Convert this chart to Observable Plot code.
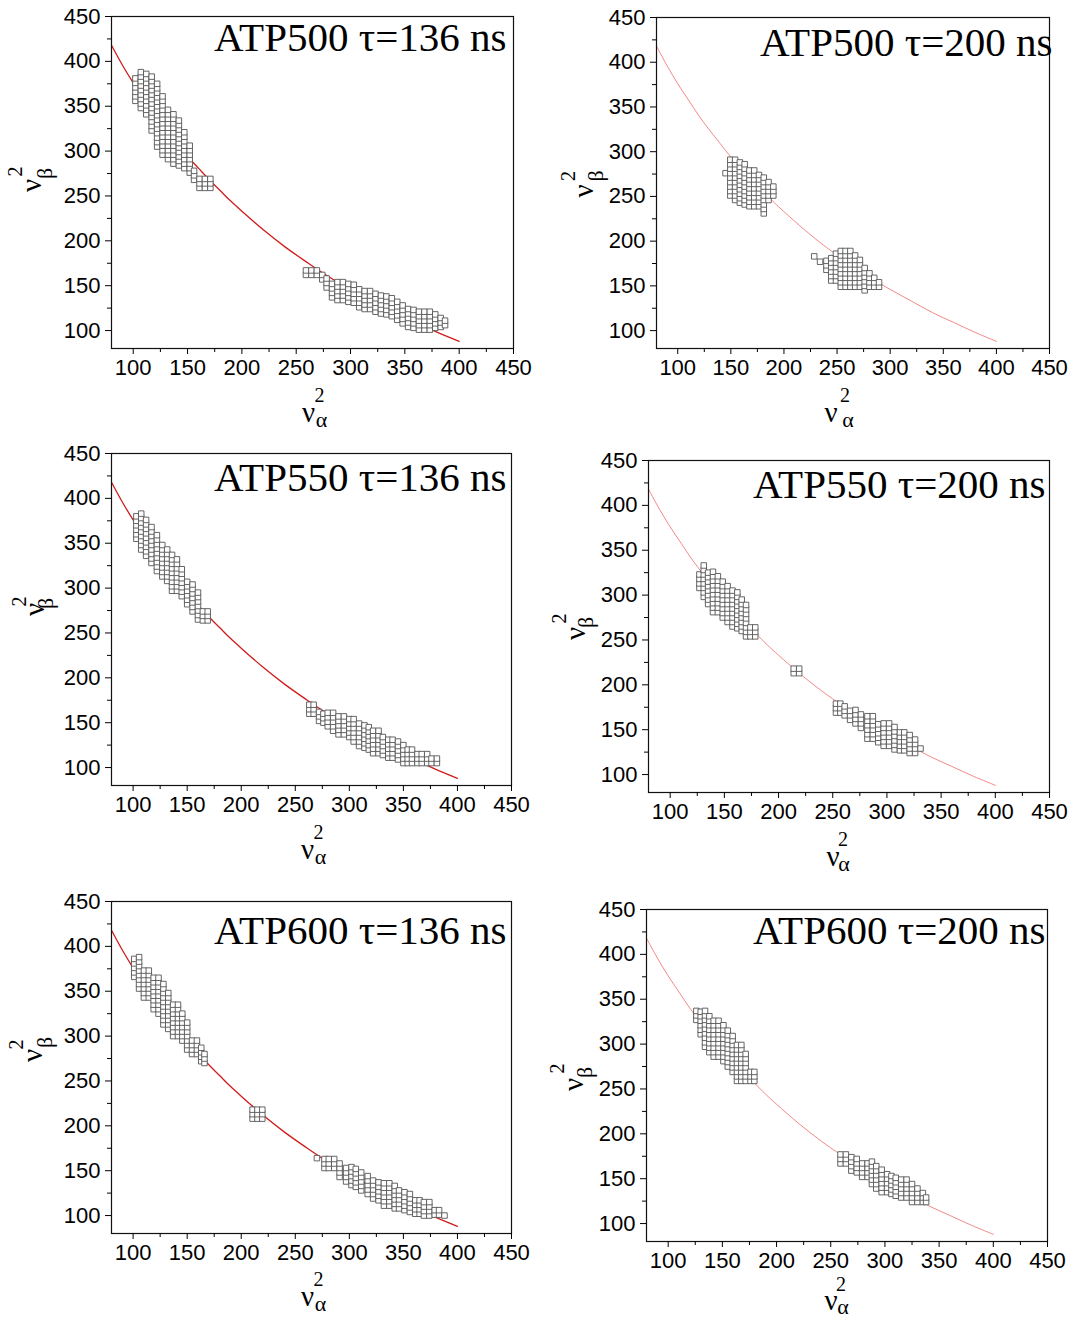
<!DOCTYPE html>
<html><head><meta charset="utf-8">
<script src="https://cdn.jsdelivr.net/npm/d3@7"></script>
<script src="https://cdn.jsdelivr.net/npm/@observablehq/plot@0.6"></script>
<style>
html,body{margin:0;padding:0;background:#fff;}
#page{position:relative;width:1076px;height:1319px;overflow:hidden;background:#fff;}
.panel{position:absolute;}
</style></head><body><div id="page"></div>
<script>
// red model curve
const curveX = [80, 90, 100, 110, 120, 130, 140, 150, 160, 170, 180, 190, 200, 220, 240, 260, 280, 300, 320, 340, 360, 380, 400];
const curveY = [418, 396, 376, 358, 340, 324, 309, 294, 281, 268, 256, 244, 233, 212, 193, 176, 160, 146, 133, 120, 109, 98, 88];

const majorTicks = [100, 150, 200, 250, 300, 350, 400, 450];
const minorTicks = [125, 175, 225, 275, 325, 375, 425];
const titles = ["ATP500 τ=136 ns", "ATP500 τ=200 ns", "ATP550 τ=136 ns", "ATP550 τ=200 ns", "ATP600 τ=136 ns", "ATP600 τ=200 ns"];

// accepted cells: columns of [x, lowest y, highest y]
const cellStep = 5;
const p1Upper = [[102,356,381],[107,348,388],[112,341,388],[117,323,383],[122,305,378],[127,296,361],[132,291,350],[137,286,343],[142,284,336],[147,281,323],[152,276,308],[156,268,280],[161,259,271],[166,259,271],[171,259,271]];
const p1Lower = [[259,162,171],[264,162,171],[269,162,171],[274,157,162],[278,148,158],[283,137,155],[288,134,154],[293,134,154],[298,132,154],[303,131,151],[308,126,149],[313,124,146],[318,124,146],[323,121,144],[328,119,141],[333,118,139],[338,116,136],[343,112,135],[348,108,131],[353,104,128],[358,103,126],[363,101,124],[368,101,124],[373,101,124],[378,103,120],[383,104,117],[387,106,114]];
const p2Upper = [[145,276,276],[149.5,251,291],[154,246,293],[158.5,243,288],[163,241,286],[167.5,239,283],[172,239,281],[176.5,239,276],[181,231,271],[185.5,246,266],[190,251,261]];
const p2Lower = [[228.5,183,183],[234,177,181],[240,168,180],[244.5,156,184],[249,156,186],[253.5,149,192],[258,149,192],[262.5,149,192],[267,149,188],[271.5,149,183],[276,145,170],[280.5,149,165],[285,149,160],[289.5,149,154]];
const p3Upper = [[103,355,383],[107.5,343,383],[112,336,376],[117,328,370],[122,319,363],[127,313,352],[131.5,308,346],[136,297,339],[140.5,297,333],[145,291,322],[150,282,311],[155,274,305],[160,265,296],[164.5,264,277],[169,264,277]];
const p3Lower = [[263,160,171],[267,160,171],[272,152,166],[276,150,163],[280,146,165],[285,141,161],[290,137,161],[295,137,161],[300,134,158],[304,129,157],[309,124,152],[314,122,149],[318,120,146],[322,116,141],[327,116,141],[331,114,137],[336,111,135],[340,111,133],[345,109,131],[350,105,126],[354,105,124],[358,105,122],[363,105,118],[367,105,118],[372,105,115],[376,105,113],[381,105,110]];
const p4Upper = [[127,308,326],[131,298,333],[135,290,327],[139.5,281,327],[144,281,322],[148.5,275,318],[153,270,313],[157.5,265,306],[162,263,303],[166,260,296],[170,254,290],[174,254,268],[178.5,254,265]];
const p4Middle = [[214,213,218],[219,213,218]];
const p4Lower = [[253,169,179],[257,169,179],[261,166,179],[266,161,173],[271,157,173],[276,152,169],[282,140,169],[287,140,165],[292,136,160],[297,132,157],[302,132,157],[307,128,153],[312,127,149],[316,127,149],[321,124,145],[326,124,141],[331,129,131]];
const p5Upper = [[101,366,389],[105.5,353,389],[110,343,377],[114.5,343,377],[119,330,365],[123.5,325,365],[128,313,358],[132.5,308,352],[137,300,337],[141.5,300,337],[145.5,295,328],[150,285,316],[154.5,280,299],[159,280,299],[163,272,288],[166,270,280]];
const p5Middle = [[210.5,208,218],[215,208,218],[219.5,208,218]];
const p5Lower = [[270,164,164],[277,153,166],[281,153,166],[286,153,166],[291,143,160],[297,138,157],[302,134,155],[306,132,153],[311,128,149],[317,124,144],[322,119,142],[327,117,139],[332,111,136],[337,111,136],[342,108,133],[346,108,131],[351,106,129],[356,104,124],[361,102,121],[365,102,120],[369,100,117],[374,100,117],[379,101,108],[383,101,106],[388,100,104]];
const p6Upper = [[126,327,339],[130,311,339],[134,297,339],[138,291,333],[142,286,327],[146.5,286,327],[151,281,321],[155,275,316],[159.5,269,309],[163.5,259,303],[167.5,259,299],[171.5,259,293],[176,259,271],[179.5,259,271]];
const p6Lower = [[259,167,178],[264,167,178],[269,159,178],[274,157,174],[279,152,170],[284,152,169],[288,144,169],[292,139,166],[297,135,161],[302,135,158],[306,133,157],[310,131,154],[315,129,150],[320,129,149],[325,124,144],[330,124,139],[335,124,136],[338,124,133]];

const serif = "'Liberation Serif', 'Times New Roman', serif";
const sans = "'Liberation Sans', Arial, sans-serif";

const panels = [
  {title: titles[0], clusters: [p1Upper, p1Lower], left: 0, top: 0, w: 540, h: 430, mL: 111, mR: 27, mT: 16, mB: 82, dark: true, tdx: -7, tdy: 34,
   xl: [[-4, 64], [7, 47], [9, 71]], yl: [[-80, 3], [-96, -11], [-67, -9]]},
  {title: titles[1], clusters: [p2Upper, p2Lower], left: 540, top: 0, w: 536, h: 430, mL: 116, mR: 27, mT: 17, mB: 82, dark: false, tdx: 3, tdy: 38,
   xl: [[-22, 64], [-8, 47], [-5, 71]], yl: [[-73, 8], [-88, -7], [-61, -7]]},
  {title: titles[2], clusters: [p3Upper, p3Lower], left: 0, top: 430, w: 540, h: 440, mL: 111, mR: 29, mT: 23, mB: 85, dark: true, tdx: -5, tdy: 37,
   xl: [[-4, 64], [7, 47], [9, 71]], yl: [[-77, -10], [-92, -18], [-66, -16]]},
  {title: titles[3], clusters: [p4Upper, p4Middle, p4Lower], left: 540, top: 440, w: 536, h: 440, mL: 108, mR: 27, mT: 20, mB: 88, dark: false, tdx: -4, tdy: 37,
   xl: [[-16, 64], [-6, 47], [-5, 71]], yl: [[-73, 7], [-89, -8], [-63, -4]]},
  {title: titles[4], clusters: [p5Upper, p5Middle, p5Lower], left: 0, top: 880, w: 540, h: 439, mL: 111, mR: 29, mT: 21, mB: 86, dark: true, tdx: -5, tdy: 42,
   xl: [[-4, 63], [7, 46], [9, 70]], yl: [[-79, -12], [-95, -23], [-67, -25]]},
  {title: titles[5], clusters: [p6Upper, p6Lower], left: 540, top: 890, w: 536, h: 429, mL: 106, mR: 29, mT: 19, mB: 78, dark: false, tdx: -2, tdy: 34,
   xl: [[-16, 59], [-6, 43], [-4, 65]], yl: [[-73, 9], [-89, -7], [-62, -3]]}
];

const curveData = curveX.map((x, i) => ({x, y: curveY[i]}));

function cells(cluster) {
  const out = [];
  for (const [x, lo, hi] of cluster) {
    for (let y = lo; y <= hi + 0.01; y += cellStep) out.push({x, y});
  }
  return out;
}

const page = document.getElementById("page");
for (const p of panels) {
  const pts = p.clusters.flatMap(cells);
  const glyph = (s, size, opts) => Plot.text([s], {text: d => d, fontFamily: serif, fontSize: size, fill: "black", textAnchor: "middle", lineAnchor: "middle", ...opts});
  const chart = Plot.plot({
    width: p.w, height: p.h,
    marginLeft: p.mL, marginRight: p.mR, marginTop: p.mT, marginBottom: p.mB,
    x: {domain: [80, 450]},
    y: {domain: [80, 450]},
    style: {fontFamily: sans, fontSize: "22px", color: "black", background: "transparent", overflow: "visible"},
    marks: [
      Plot.line(curveData, {x: "x", y: "y", curve: "catmull-rom", stroke: p.dark ? "#d01c1c" : "#f27b7b", strokeWidth: p.dark ? 1.3 : 0.9}),
      Plot.dot(pts, {x: "x", y: "y", symbol: "square", r: 3.1, fill: "white", stroke: "#555", strokeWidth: 0.9}),
      Plot.frame({stroke: "#111", strokeWidth: 1.2}),
      Plot.axisX({ticks: majorTicks, tickSize: 6, tickPadding: 5, label: null, fontSize: 22}),
      Plot.axisX({ticks: minorTicks, tickSize: 4, tickFormat: () => "", label: null}),
      Plot.axisY({ticks: majorTicks, tickSize: 6, tickPadding: 5, label: null, fontSize: 22}),
      Plot.axisY({ticks: minorTicks, tickSize: 4, tickFormat: () => "", label: null}),
      Plot.text([p.title], {text: d => d, frameAnchor: "top-right", textAnchor: "end", lineAnchor: "bottom", dx: p.tdx, dy: p.tdy, fontSize: 41, fontFamily: serif, fill: "black"}),
      glyph("ν", 29, {frameAnchor: "bottom", dx: p.xl[0][0], dy: p.xl[0][1]}),
      glyph("2", 20, {frameAnchor: "bottom", dx: p.xl[1][0], dy: p.xl[1][1]}),
      glyph("α", 22, {frameAnchor: "bottom", dx: p.xl[2][0], dy: p.xl[2][1]}),
      glyph("ν", 29, {frameAnchor: "left", rotate: -90, dx: p.yl[0][0], dy: p.yl[0][1]}),
      glyph("2", 20, {frameAnchor: "left", rotate: -90, dx: p.yl[1][0], dy: p.yl[1][1]}),
      glyph("β", 22, {frameAnchor: "left", rotate: -90, dx: p.yl[2][0], dy: p.yl[2][1]})
    ]
  });
  const div = document.createElement("div");
  div.className = "panel";
  div.style.left = p.left + "px";
  div.style.top = p.top + "px";
  div.appendChild(chart);
  page.appendChild(div);
}
</script></body></html>
